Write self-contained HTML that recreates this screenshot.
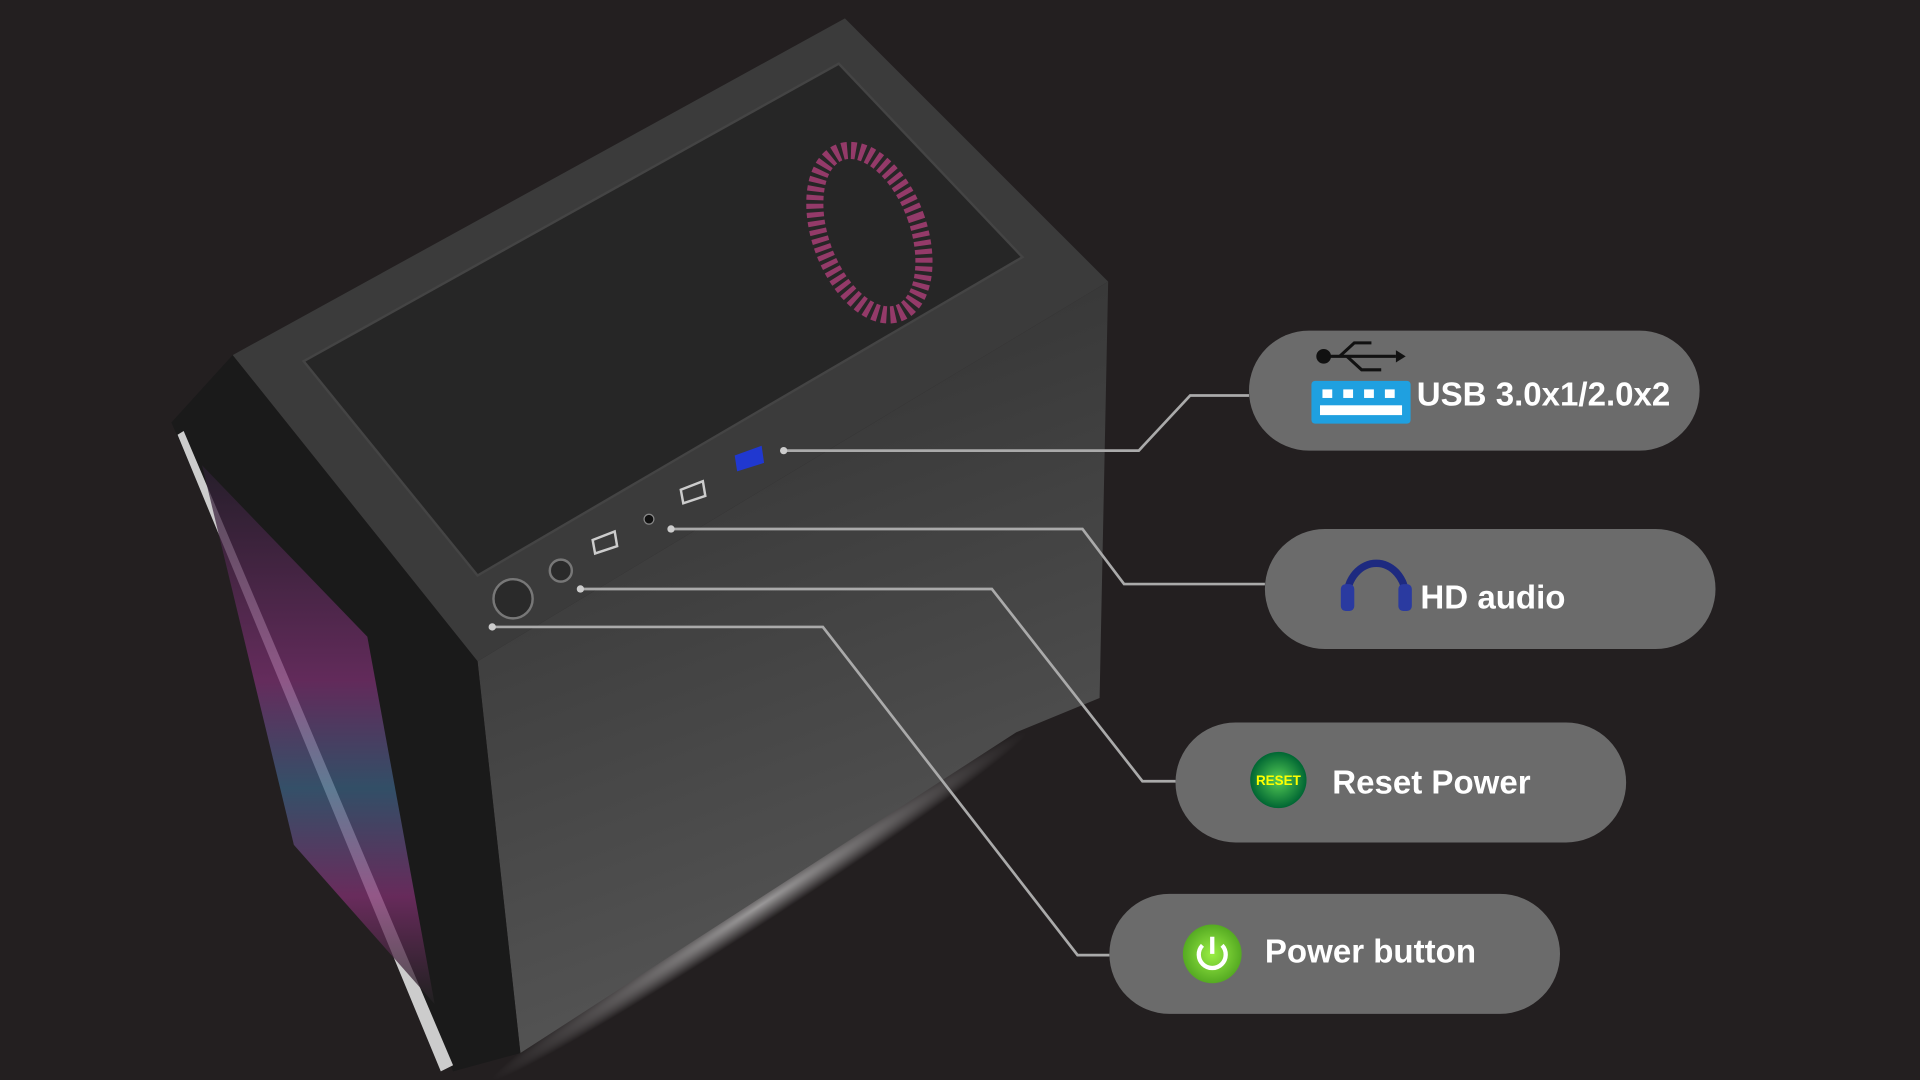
<!DOCTYPE html>
<html><head><meta charset="utf-8"><style>
html,body{margin:0;padding:0;background:#231f20;width:1920px;height:1080px;overflow:hidden}
svg{display:block}
text{font-family:"Liberation Sans",sans-serif;font-weight:bold;fill:#fff}
</style></head><body>
<svg width="1920" height="1080" viewBox="0 0 1568 882" xmlns="http://www.w3.org/2000/svg">
<defs>
<linearGradient id="fr" x1="0" y1="0" x2="0.3" y2="1">
<stop offset="0" stop-color="#2e2e2e"/><stop offset="1" stop-color="#555"/></linearGradient>
<linearGradient id="tp" x1="0" y1="0" x2="1" y2="1">
<stop offset="0" stop-color="#3a3a3a"/><stop offset="1" stop-color="#2a2a2a"/></linearGradient>
<linearGradient id="fan" x1="0" y1="0" x2="0" y2="1">
<stop offset="0" stop-color="#2a2030"/><stop offset=".4" stop-color="#7a3070"/><stop offset=".6" stop-color="#3a6080"/><stop offset=".8" stop-color="#803070"/><stop offset="1" stop-color="#222"/></linearGradient>
<radialGradient id="rg"><stop offset="0" stop-color="#5c5"/><stop offset="1" stop-color="#063"/></radialGradient>
<radialGradient id="pg"><stop offset="0" stop-color="#9e4"/><stop offset="1" stop-color="#5a2"/></radialGradient>
<radialGradient id="glow" cx=".5" cy=".5" r=".5"><stop offset="0" stop-color="#fff" stop-opacity=".9"/><stop offset="1" stop-color="#fff" stop-opacity="0"/></radialGradient>
</defs>
<rect width="1568" height="882" fill="#231f20"/>
<!-- glow under front -->
<ellipse cx="620" cy="740" rx="260" ry="14" transform="rotate(-33 620 740)" fill="url(#glow)" opacity=".6"/>
<!-- front face -->
<polygon points="390,540 905,230 898,570 830,598 425,860" fill="url(#fr)"/>
<!-- top face -->
<polygon points="190,290 690,15 905,230 390,540" fill="#3b3b3b"/>
<polygon points="248,295 685,52 835,210 390,470" fill="#262626" stroke="#444" stroke-width="2"/>
<ellipse cx="710" cy="190" rx="40" ry="70" transform="rotate(-20 710 190)" fill="none" stroke="#b0407a" stroke-width="14" stroke-dasharray="4 3" opacity=".8"/>
<!-- left front panel -->
<polygon points="140,345 190,290 390,540 425,860 370,875" fill="#1a1a1a"/>
<polygon points="150,352 370,870 360,875 145,355" fill="#ccc"/>
<polygon points="165,380 300,520 355,820 240,690" fill="url(#fan)" opacity=".75"/>
<!-- ports -->
<polygon points="600,372 622,364 624,378 602,385" fill="#2038d0"/>
<polygon points="556,400 574,393 576,405 558,411" fill="none" stroke="#ccc" stroke-width="2"/>
<polygon points="484,441 502,434 504,446 486,452" fill="none" stroke="#ccc" stroke-width="2"/>
<circle cx="530" cy="424" r="4" fill="#111" stroke="#888"/>
<circle cx="458" cy="466" r="9" fill="#2a2a2a" stroke="#777" stroke-width="2"/>
<circle cx="419" cy="489" r="16" fill="#2a2a2a" stroke="#777" stroke-width="2"/>
<!-- connector lines -->
<g fill="none" stroke="#aaa" stroke-width="2.2">
<polyline points="640,368 930,368 972,323 1020,323"/>
<polyline points="548,432 884,432 918,477 1033,477"/>
<polyline points="474,481 810,481 933,638 960,638"/>
<polyline points="402,512 672,512 880,780 906,780"/>
</g>
<g fill="#ccc"><circle cx="640" cy="368" r="3"/><circle cx="548" cy="432" r="3"/><circle cx="474" cy="481" r="3"/><circle cx="402" cy="512" r="3"/></g>
<!-- pills -->
<g fill="#6b6b6b">
<rect x="1020" y="270" width="368" height="98" rx="49"/>
<rect x="1033" y="432" width="368" height="98" rx="49"/>
<rect x="960" y="590" width="368" height="98" rx="49"/>
<rect x="906" y="730" width="368" height="98" rx="49"/>
</g>
<!-- USB icon -->
<g stroke="#111" stroke-width="2.5" fill="none"><line x1="1082" y1="291" x2="1140" y2="291"/><polyline points="1094,291 1106,280 1120,280"/><polyline points="1100,291 1112,302 1128,302"/></g>
<circle cx="1081" cy="291" r="6" fill="#111"/><polygon points="1140,286 1148,291 1140,296" fill="#111"/>
<rect x="1071" y="311" width="81" height="35" rx="3" fill="#1fa0e0"/>
<g fill="#fff"><rect x="1080" y="318" width="8" height="7"/><rect x="1097" y="318" width="8" height="7"/><rect x="1114" y="318" width="8" height="7"/><rect x="1131" y="318" width="8" height="7"/><rect x="1078" y="331" width="67" height="8"/></g>
<text x="1157" y="331" font-size="27">USB 3.0x1/2.0x2</text>
<!-- headphones -->
<path d="M1100,488 A24,28 0 0 1 1148,488" fill="none" stroke="#1e2a80" stroke-width="6"/>
<rect x="1095" y="477" width="11" height="22" rx="4" fill="#2a3aa0"/><rect x="1142" y="477" width="11" height="22" rx="4" fill="#2a3aa0"/>
<text x="1160" y="497" font-size="27">HD audio</text>
<!-- reset -->
<circle cx="1044" cy="637" r="23" fill="url(#rg)"/>
<text x="1044" y="641" font-size="11" text-anchor="middle" style="fill:#ff0">RESET</text>
<text x="1088" y="648" font-size="27">Reset Power</text>
<!-- power -->
<circle cx="990" cy="779" r="24" fill="url(#pg)"/>
<path d="M982,772 A11,11 0 1 0 998,772" fill="none" stroke="#fff" stroke-width="3.5"/>
<line x1="990" y1="765" x2="990" y2="779" stroke="#fff" stroke-width="3.5"/>
<text x="1033" y="786" font-size="27">Power button</text>
</svg>
</body></html>
